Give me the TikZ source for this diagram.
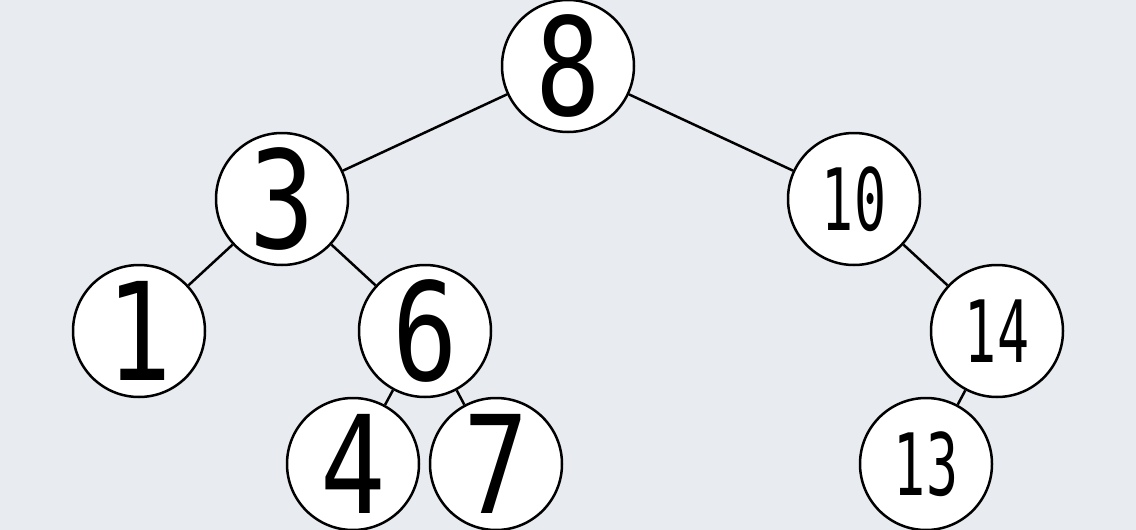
\documentclass[tikz,border=0pt]{standalone}
\usepackage{fontspec}
\newfontfamily\bignum[FakeStretch=0.8]{DejaVu Sans Mono}
\newfontfamily\smallnum[FakeStretch=0.62]{DejaVu Sans Mono}
\definecolor{bg}{HTML}{E8EBEF}
\begin{document}
\begin{tikzpicture}[x=1pt,y=-1pt,
  treenode/.style={circle,draw=black,fill=white,line width=2.5pt,
    minimum size=132pt,inner sep=0pt},
  one/.style={treenode,font=\bignum\fontsize{136}{136}\selectfont},
  two/.style={treenode,font=\smallnum\fontsize{86}{86}\selectfont},
  edge/.style={draw=black,line width=2.5pt}]
  \fill[bg] (0,0) rectangle (1136,530);
  \useasboundingbox (0,0) rectangle (1136,530);
  % tree nodes
  \node[one] (n8)  at (568,66)  {8};
  \node[one] (n3)  at (282,199) {3};
  \node[two] (n10) at (854,199) {10};
  \node[one] (n1)  at (139,331) {1};
  \node[one] (n6)  at (425,331) {6};
  \node[two] (n14) at (997,331) {14};
  \node[one] (n4)  at (353,464) {4};
  \node[one] (n7)  at (496,464) {7};
  \node[two] (n13) at (926,464) {13};
  % parent-child links
  \draw[edge] (n8) -- (n3);
  \draw[edge] (n8) -- (n10);
  \draw[edge] (n3) -- (n1);
  \draw[edge] (n3) -- (n6);
  \draw[edge] (n6) -- (n4);
  \draw[edge] (n6) -- (n7);
  \draw[edge] (n10) -- (n14);
  \draw[edge] (n14) -- (n13);
\end{tikzpicture}
\end{document}
